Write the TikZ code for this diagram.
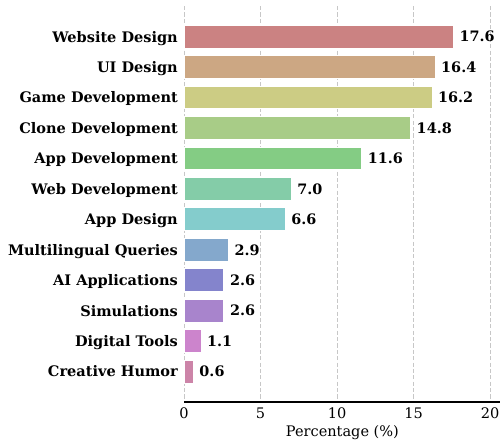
\documentclass[tikz,border=0pt]{standalone}
\usepackage{fontspec}
\setmainfont{DejaVu Serif}
\usetikzlibrary{positioning}

\definecolor{cWebsite}{RGB}{203,130,130}
\definecolor{cUI}{RGB}{204,167,131}
\definecolor{cGame}{RGB}{204,204,132}
\definecolor{cClone}{RGB}{168,204,135}
\definecolor{cAppDev}{RGB}{132,204,132}
\definecolor{cWebDev}{RGB}{132,204,168}
\definecolor{cAppDesign}{RGB}{132,204,204}
\definecolor{cMulti}{RGB}{132,168,204}
\definecolor{cAI}{RGB}{132,132,204}
\definecolor{cSim}{RGB}{168,132,204}
\definecolor{cDigital}{RGB}{204,132,204}
\definecolor{cHumor}{RGB}{204,132,168}

\begin{document}
\begin{tikzpicture}[
    x=0.3886cm, y=-0.7734cm,
    % Define the style for the bars and labels
    bar/.style={draw=white, line width=0.5pt},
    gridline/.style={draw=black!22, dash pattern=on 3pt off 1.6pt, line width=0.6pt},
    catlabel/.style={anchor=east, inner sep=0pt, text depth=0pt, font=\bfseries\fontsize{10.5}{12.5}\selectfont},
    vallabel/.style={anchor=west, inner sep=0pt, text depth=0pt, font=\bfseries\fontsize{10.4}{12.5}\selectfont},
    ticklabel/.style={inner sep=0pt, font=\fontsize{10.5}{12.5}\selectfont}
]
    \useasboundingbox (-12.03,-1.199) rectangle (20.65,13.317);

    % grid and axis
    \foreach \t in {0,5,...,20} {
        \draw[gridline] (\t,-1) -- (\t,12);
        \node[ticklabel] (tick-\t) at (\t,12.36) {\t};
    }
    \draw[line width=0.9pt] (0,12) -- (20.65,12);
    \node[ticklabel] (xlabel) at (10.35,13.02) {Percentage (\%)};

    % bars
    \foreach \v/\name/\col [count=\i from 0] in {
        17.6/Website Design/cWebsite,
        16.4/UI Design/cUI,
        16.2/Game Development/cGame,
        14.8/Clone Development/cClone,
        11.6/App Development/cAppDev,
        7.0/Web Development/cWebDev,
        6.6/App Design/cAppDesign,
        2.9/Multilingual Queries/cMulti,
        2.6/AI Applications/cAI,
        2.6/Simulations/cSim,
        1.1/Digital Tools/cDigital,
        0.6/Creative Humor/cHumor} {
        \filldraw[bar, fill=\col] (0,\i-0.375) rectangle (\v,\i+0.375);
        \node[catlabel] (cat-\i) at (-0.39,\i) {\name};
        \node[vallabel] (val-\i) at (\v+0.39,\i) {\v};
    }

\end{tikzpicture}
\end{document}
